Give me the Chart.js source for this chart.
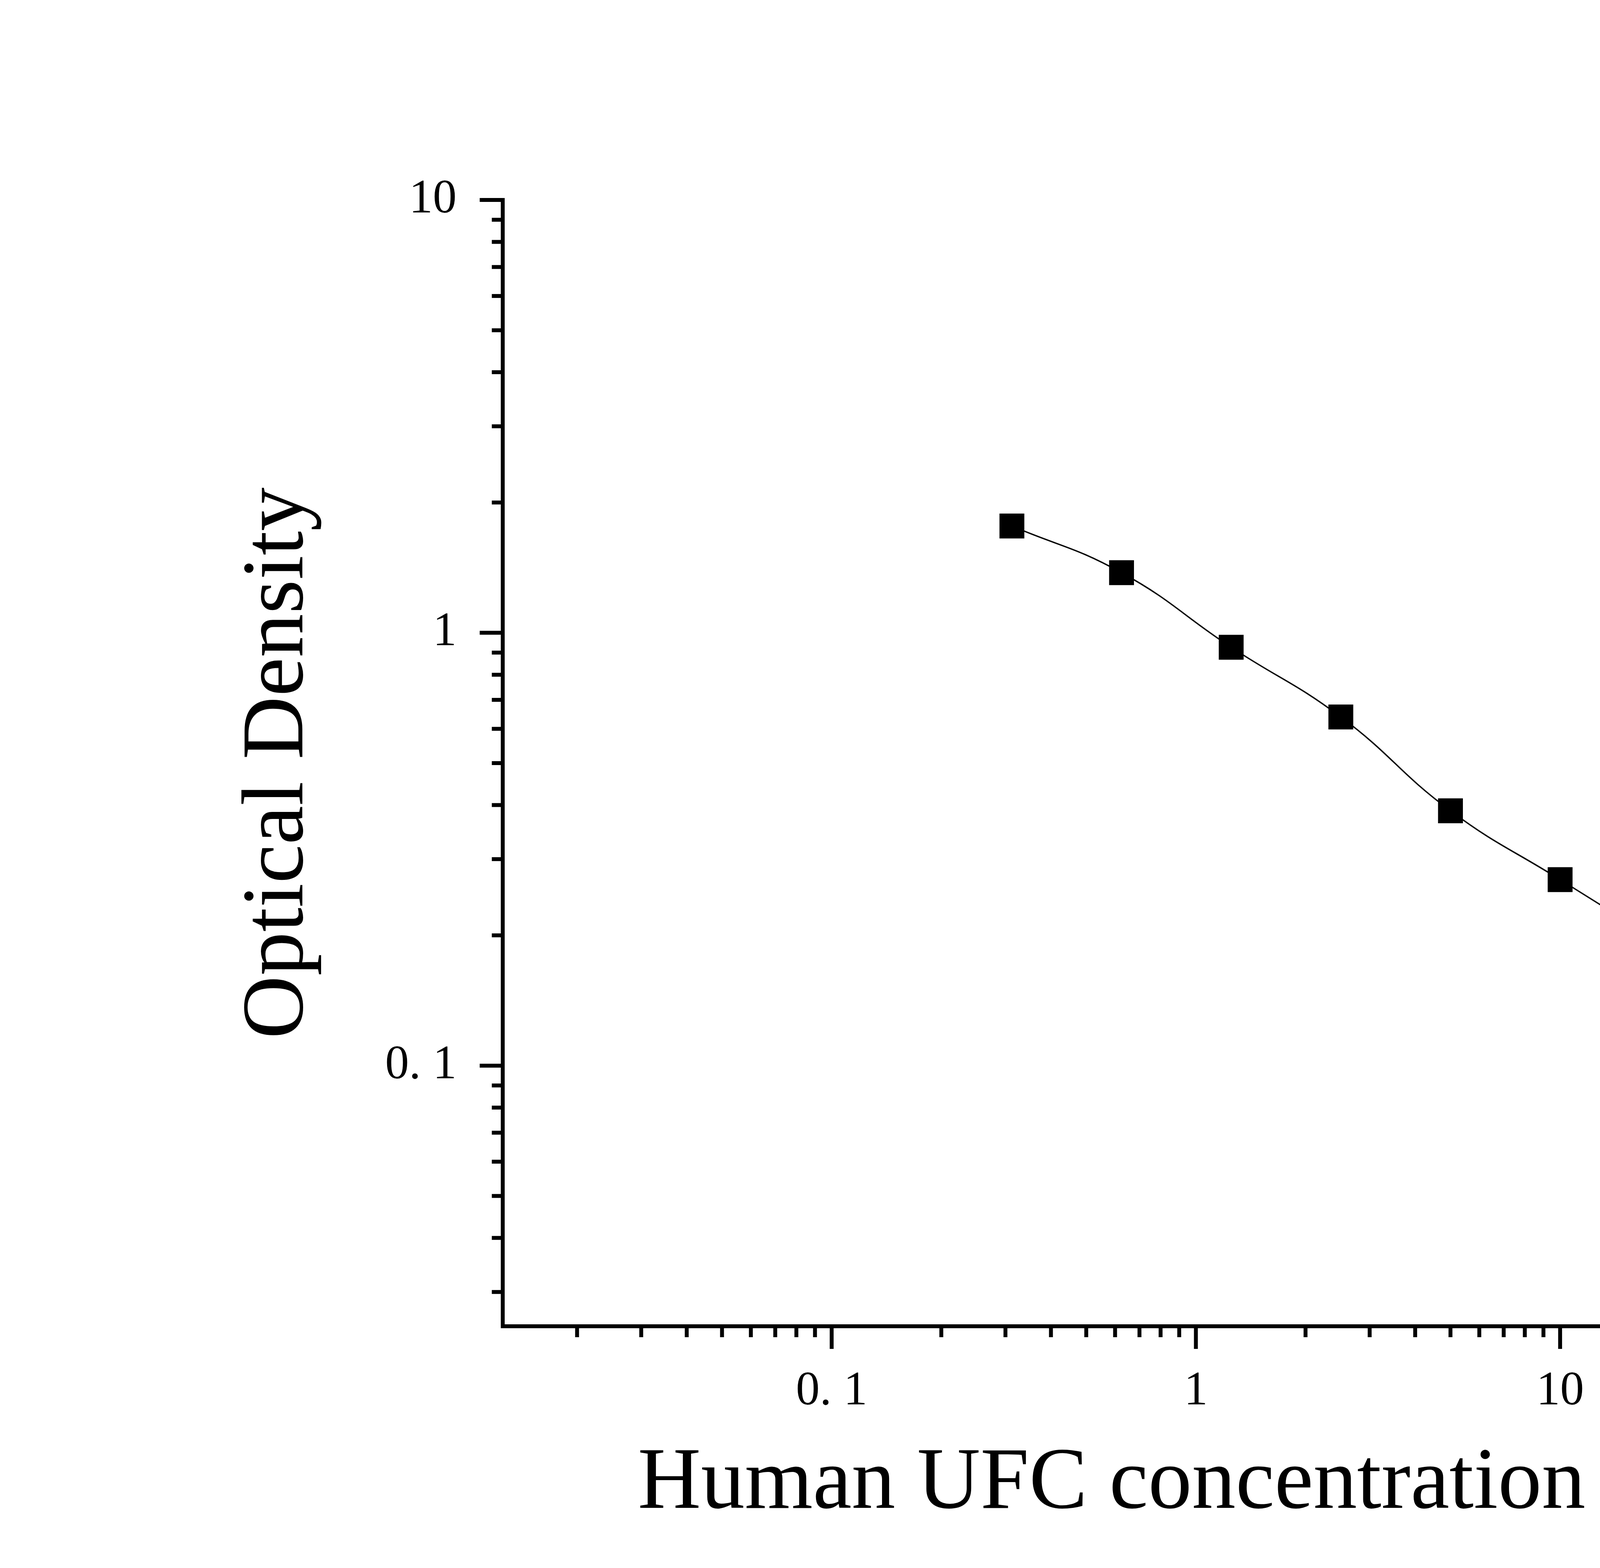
<!DOCTYPE html>
<html>
<head>
<meta charset="utf-8">
<script src="https://cdn.jsdelivr.net/npm/chart.js@4.4.1/dist/chart.umd.min.js"></script>
<style>
  html, body { margin: 0; padding: 0; background: #fff; overflow: hidden; }
  canvas { display: block; }
</style>
</head>
<body>
<canvas id="myChart" width="5749" height="4015"></canvas>
<script>
// standard curve: concentration (ng/mL) vs optical density
const concentrations = [0.3125, 0.625, 1.25, 2.5, 5, 10, 20];
const odValues = [1.765, 1.377, 0.926, 0.639, 0.388, 0.269, 0.187];

// axis ticks
const xMajorTicks = [0.1, 1, 10, 100];
const xMajorLabels = ['0. 1', '1', '10', '100'];
const xMinorTicks = [0.02, 0.03, 0.04, 0.05, 0.06, 0.07, 0.08, 0.09,
                     0.2, 0.3, 0.4, 0.5, 0.6, 0.7, 0.8, 0.9,
                     2, 3, 4, 5, 6, 7, 8, 9,
                     20, 30, 40, 50, 60, 70, 80, 90, 200];
const yMajorTicks = [0.1, 1, 10];
const yMajorLabels = ['0. 1', '1', '10'];
const yMinorTicks = [0.03, 0.04, 0.05, 0.06, 0.07, 0.08, 0.09,
                     0.2, 0.3, 0.4, 0.5, 0.6, 0.7, 0.8, 0.9,
                     2, 3, 4, 5, 6, 7, 8, 9];

const FONT = "'Liberation Serif', 'Times New Roman', serif";

function buildTicks(major, minor) {
    return major.concat(minor)
        .sort((a, b) => a - b)
        .map(v => ({ value: v, major: major.includes(v) }));
}

function labelFor(major, labels) {
    return function (value) {
        const i = major.findIndex(m => Math.abs(m - value) < m * 1e-6);
        return i >= 0 ? labels[i] : '';
    };
}

// outward tick marks, long for decades and short for the rest
const tickMarks = {
    id: 'tickMarks',
    afterDraw(chart) {
        const ctx = chart.ctx;
        const area = chart.chartArea;
        const xs = chart.scales.x;
        const ys = chart.scales.y;
        ctx.save();
        ctx.strokeStyle = '#000';
        ctx.lineWidth = 10;
        ctx.lineCap = 'butt';
        xs.ticks.forEach(t => {
            const px = xs.getPixelForValue(t.value);
            const len = t.major ? 58 : 28;
            ctx.beginPath();
            ctx.moveTo(px, area.bottom);
            ctx.lineTo(px, area.bottom + len);
            ctx.stroke();
        });
        ys.ticks.forEach(t => {
            const py = ys.getPixelForValue(t.value);
            const len = t.major ? 59 : 28;
            ctx.beginPath();
            ctx.moveTo(area.left, py);
            ctx.lineTo(area.left - len, py);
            ctx.stroke();
        });
        // close the corner where the two axis lines meet
        ctx.fillStyle = '#000';
        ctx.fillRect(area.left - 5, area.bottom - 5, 10, 10);
        ctx.restore();
    }
};

const ctx = document.getElementById('myChart').getContext('2d');

new Chart(ctx, {
    type: 'line',
    data: {
        datasets: [{
            label: 'OD',
            data: concentrations.map((c, i) => ({ x: c, y: odValues[i] })),
            borderColor: '#000',
            borderWidth: 3.5,
            tension: 0.45,
            pointStyle: 'rect',
            pointRadius: 45,
            pointBorderWidth: 0,
            pointBackgroundColor: '#000',
            pointBorderColor: '#000',
            fill: false
        }]
    },
    options: {
        responsive: false,
        devicePixelRatio: 1,
        animation: false,
        layout: {
            padding: { left: 581, right: 542, top: 512, bottom: 78 }
        },
        plugins: {
            legend: { display: false },
            tooltip: { enabled: false }
        },
        scales: {
            x: {
                type: 'logarithmic',
                min: 0.0125,
                max: 200,
                afterBuildTicks: scale => { scale.ticks = buildTicks(xMajorTicks, xMinorTicks); },
                afterFit: scale => { scale.height = 541; },
                grid: { display: false },
                border: { display: true, color: '#000', width: 10 },
                ticks: {
                    autoSkip: false,
                    maxRotation: 0,
                    padding: 87,
                    color: '#000',
                    font: { family: FONT, size: 122 },
                    callback: labelFor(xMajorTicks, xMajorLabels)
                },
                title: {
                    display: true,
                    text: 'Human UFC concentration (ng/mL)',
                    color: '#000',
                    padding: 0,
                    font: { family: FONT, size: 224, lineHeight: 1.2 }
                }
            },
            y: {
                type: 'logarithmic',
                min: 0.025,
                max: 10,
                afterBuildTicks: scale => { scale.ticks = buildTicks(yMajorTicks, yMinorTicks); },
                afterFit: scale => { scale.width = 706; },
                grid: { display: false },
                border: { display: true, color: '#000', width: 10 },
                ticks: {
                    autoSkip: false,
                    padding: 110,
                    color: '#000',
                    font: { family: FONT, size: 122 },
                    callback: labelFor(yMajorTicks, yMajorLabels)
                },
                title: {
                    display: true,
                    text: 'Optical Density',
                    color: '#000',
                    padding: 0,
                    font: { family: FONT, size: 224, lineHeight: 1.2 }
                }
            }
        }
    },
    plugins: [tickMarks]
});
</script>
</body>
</html>
